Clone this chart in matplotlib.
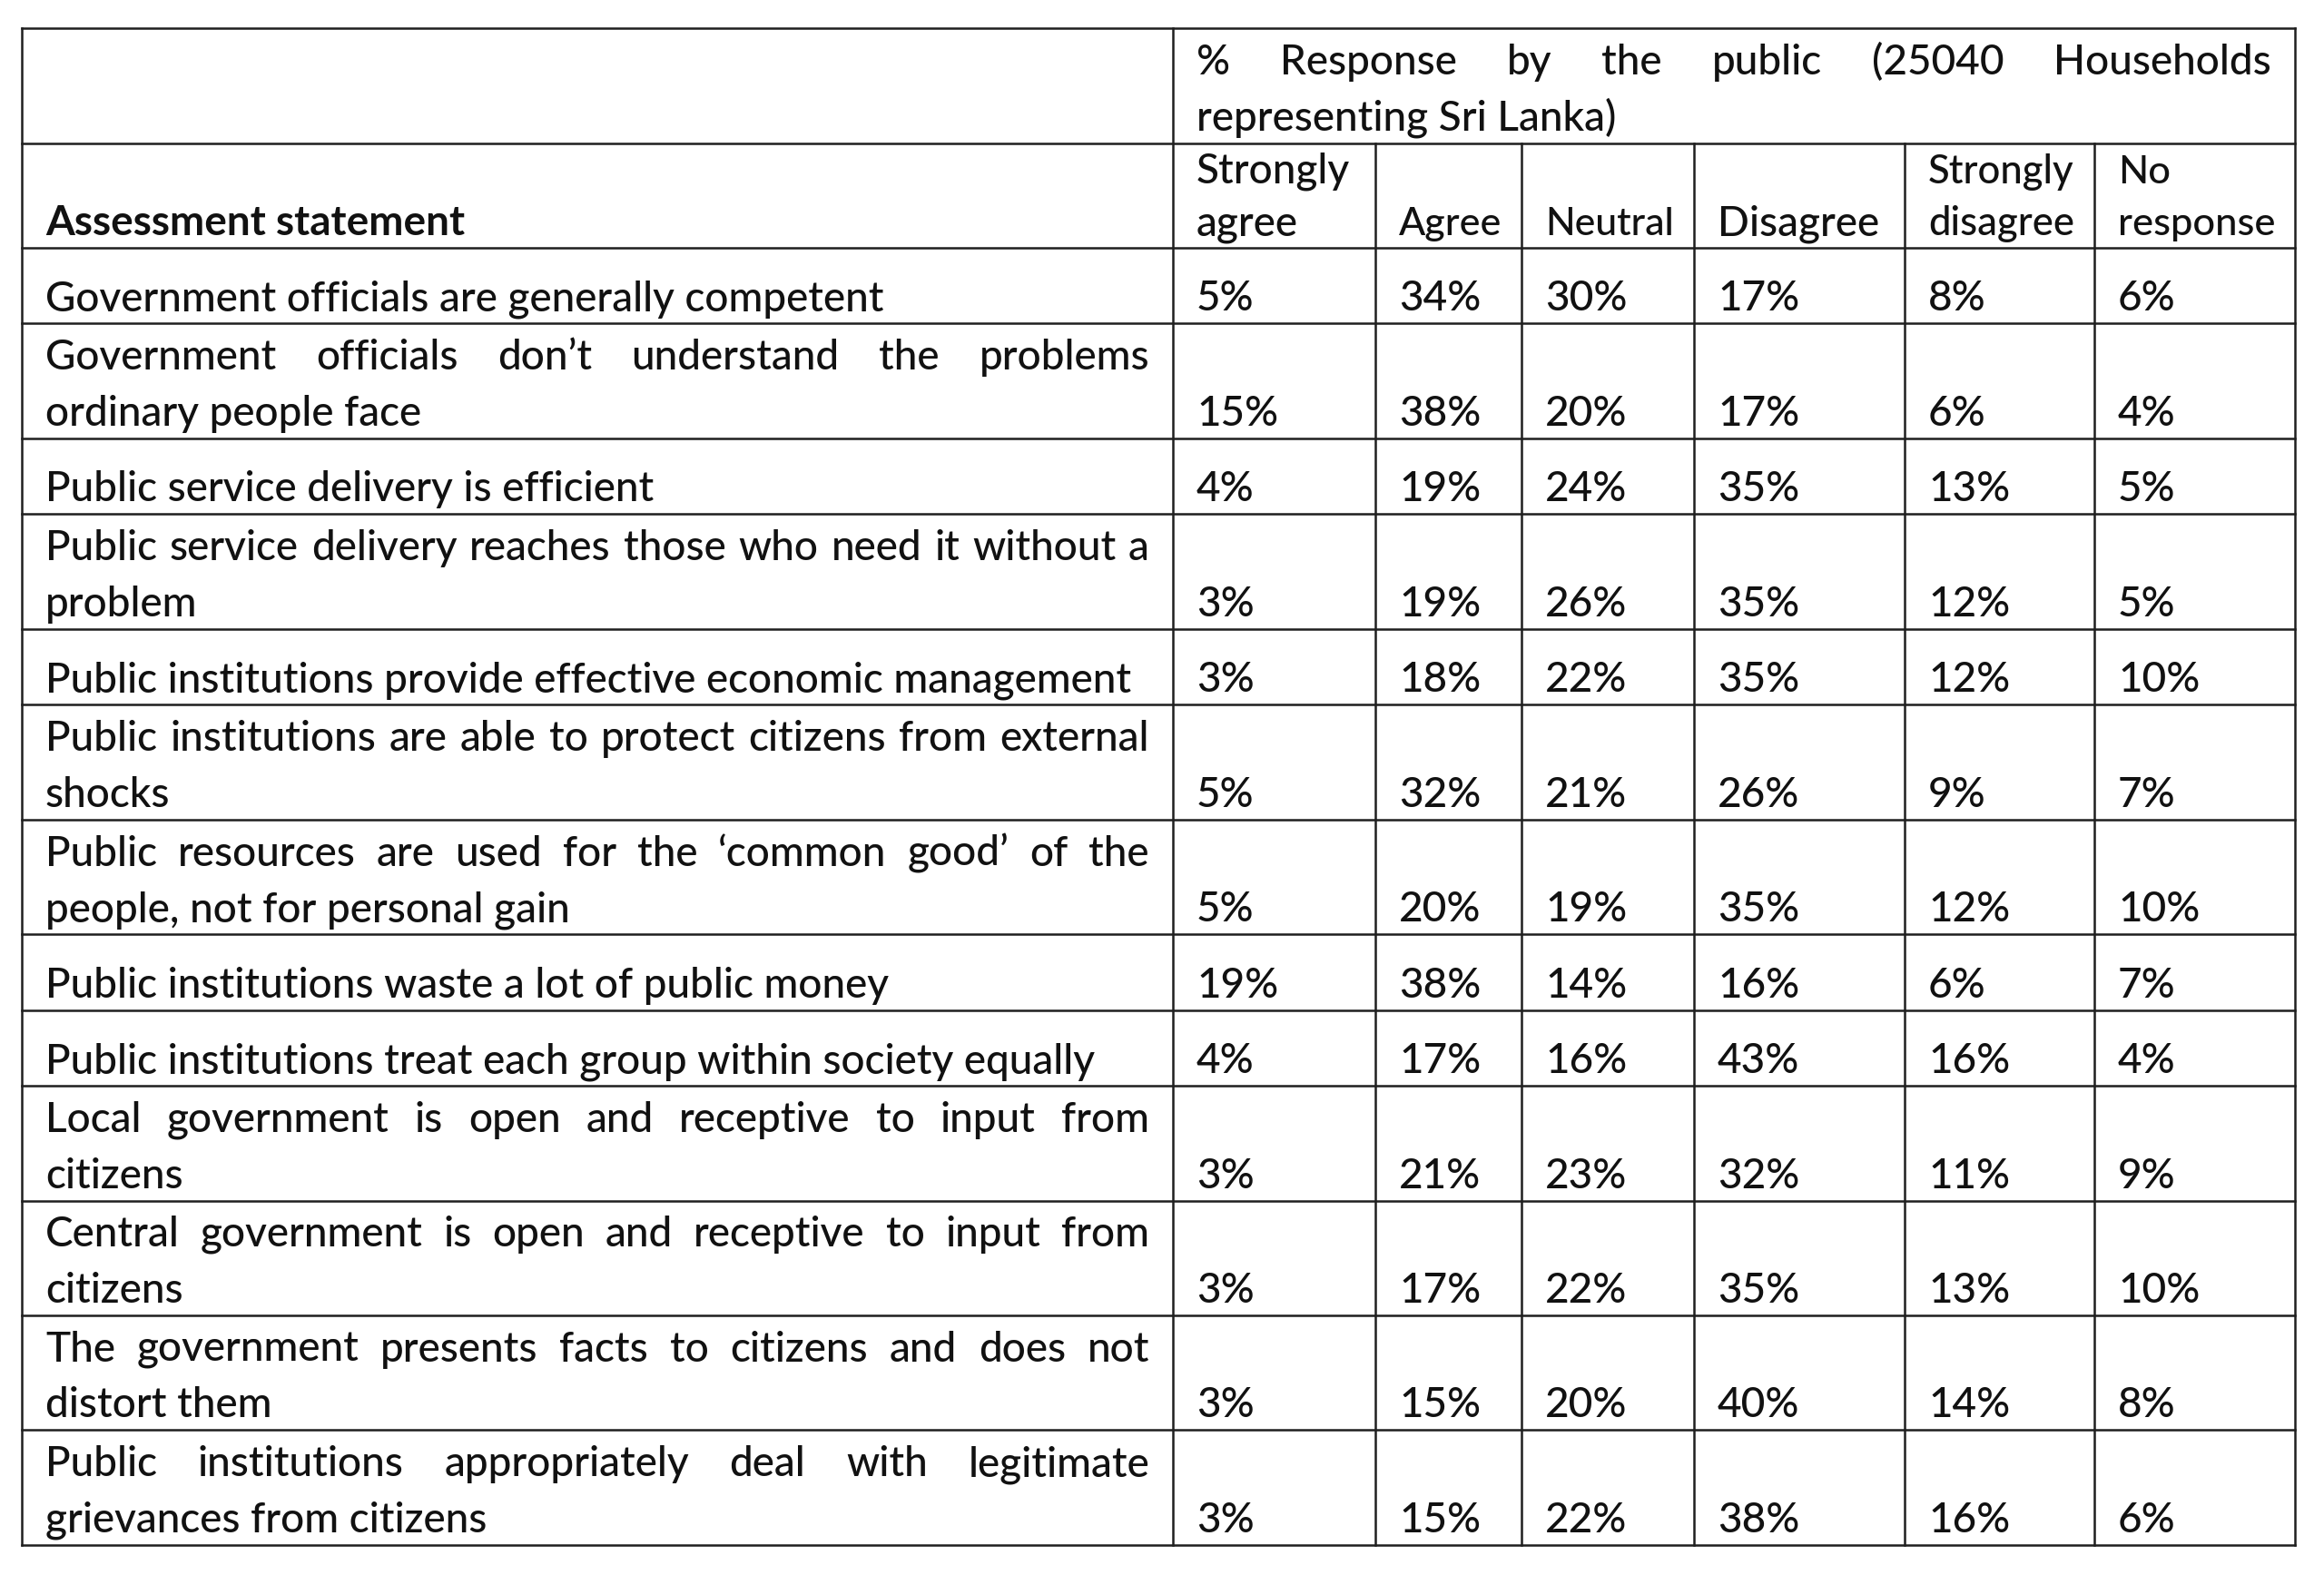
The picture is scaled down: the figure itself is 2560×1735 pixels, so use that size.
import matplotlib
matplotlib.use("Agg")
import matplotlib.pyplot as plt

# ---- table content ----
header_top = "% Response by the public (25040 Households\nrepresenting Sri Lanka)"
header_first = "Assessment statement"
response_labels = ["Strongly\nagree", "Agree", "Neutral", "Disagree",
                   "Strongly\ndisagree", "No\nresponse"]

statements = [
    "Government officials are generally competent",
    "Government officials don’t understand the problems\nordinary people face",
    "Public service delivery is efficient",
    "Public service delivery reaches those who need it without a\nproblem",
    "Public institutions provide effective economic management",
    "Public institutions are able to protect citizens from external\nshocks",
    "Public resources are used for the ‘common good’ of the\npeople, not for personal gain",
    "Public institutions waste a lot of public money",
    "Public institutions treat each group within society equally",
    "Local government is open and receptive to input from\ncitizens",
    "Central government is open and receptive to input from\ncitizens",
    "The government presents facts to citizens and does not\ndistort them",
    "Public institutions appropriately deal with legitimate\ngrievances from citizens",
]

strongly_agree = [5, 15, 4, 3, 3, 5, 5, 19, 4, 3, 3, 3, 3]
agree = [34, 38, 19, 19, 18, 32, 20, 38, 17, 21, 17, 15, 15]
neutral = [30, 20, 24, 26, 22, 21, 19, 14, 16, 23, 22, 20, 22]
disagree = [17, 17, 35, 35, 35, 26, 35, 16, 43, 32, 35, 40, 38]
strongly_disagree = [8, 6, 13, 12, 12, 9, 12, 6, 16, 11, 13, 14, 16]
no_response = [6, 4, 5, 5, 10, 7, 10, 7, 4, 9, 10, 8, 6]

columns = [strongly_agree, agree, neutral, disagree, strongly_disagree, no_response]

# ---- layout (pixels) ----
W, H = 2560, 1735
col_edges = [24, 1292, 1515, 1676, 1866, 2098, 2307, 2528]
top = 31
header_heights = [127, 115]
row_height = {1: 83.5, 2: 126.4}
pad_x = 26
pad_bottom = 14
line_gap = 61.5
header_gap = 57
ink = "#111111"
rule = "#1f1f1f"
fs = 33
weight_normal = "medium"

plt.rcParams['font.family'] = ['Lato', 'DejaVu Sans']

fig = plt.figure(figsize=(W / 100, H / 100), dpi=100)
ax = fig.add_axes([0, 0, 1, 1])
ax.set_xlim(0, W)
ax.set_ylim(H, 0)
ax.axis("off")
renderer = fig.canvas.get_renderer()


def text_width(s, weight, size=fs):
    t = ax.text(0, 0, s, fontsize=size, fontweight=weight)
    w = t.get_window_extent(renderer).width
    t.remove()
    return w


def put_lines(text, x0, x1, bottom, gap, weight=weight_normal, justify=False, size=fs):
    lines = text.split("\n")
    n = len(lines)
    for i, line in enumerate(lines):
        y = bottom - pad_bottom - (n - 1 - i) * gap
        if justify and i < n - 1:
            words = line.split(" ")
            widths = [text_width(w, weight, size) for w in words]
            space = (x1 - x0 - sum(widths)) / (len(words) - 1)
            x = x0
            for w, ww in zip(words, widths):
                ax.text(x, y, w, fontsize=size, fontweight=weight, color=ink,
                        va="baseline", ha="left")
                x += ww + space
        else:
            ax.text(x0, y, line, fontsize=size, fontweight=weight, color=ink,
                    va="baseline", ha="left")


# row boundaries
y = top + header_heights[0] + header_heights[1]
body_edges = [y]
for s in statements:
    y += row_height[s.count("\n") + 1]
    body_edges.append(y)
h_edges = [top, top + header_heights[0]] + body_edges

# rules
lw = 1.8
ax.hlines(h_edges, col_edges[0], col_edges[-1], color=rule, lw=lw, capstyle="projecting")
ax.vlines([col_edges[0], col_edges[1], col_edges[-1]], top, h_edges[-1], color=rule, lw=lw,
          capstyle="projecting")
ax.vlines(col_edges[2:-1], h_edges[1], h_edges[-1], color=rule, lw=lw, capstyle="projecting")

# header
put_lines(header_top, col_edges[1] + pad_x, col_edges[-1] - pad_x, h_edges[1], line_gap,
          justify=True)
put_lines(header_first, col_edges[0] + pad_x, col_edges[1] - pad_x, h_edges[2], header_gap,
          weight="bold")
for j, lab in enumerate(response_labels):
    x0, x1 = col_edges[j + 1] + pad_x, col_edges[j + 2] - pad_x
    widest = max(text_width(part, weight_normal) for part in lab.split("\n"))
    size = fs * min(1.0, (x1 - x0 + 4) / widest)
    put_lines(lab, x0, x1, h_edges[2], header_gap, size=size)

# body
for i, s in enumerate(statements):
    bottom = body_edges[i + 1]
    put_lines(s, col_edges[0] + pad_x, col_edges[1] - pad_x, bottom, line_gap, justify=True)
    for j, col in enumerate(columns):
        put_lines(f"{col[i]}%", col_edges[j + 1] + pad_x, col_edges[j + 2] - pad_x, bottom,
                  line_gap)

fig.savefig("out.png", dpi=100, facecolor="white")
